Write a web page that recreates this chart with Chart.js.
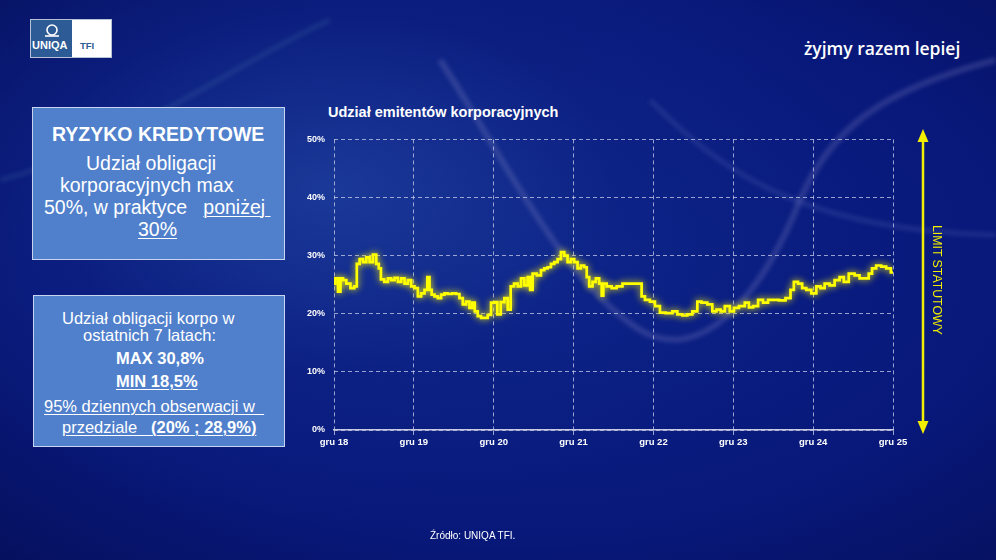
<!DOCTYPE html>
<html lang="pl">
<head>
<meta charset="utf-8">
<script src="https://cdn.jsdelivr.net/npm/chart.js@4.4.0/dist/chart.umd.min.js"></script>
<style>
  html, body { margin: 0; padding: 0; }
  body {
    width: 996px; height: 560px; overflow: hidden; position: relative;
    font-family: "Liberation Sans", Arial, sans-serif; color: #fff;
    background:
      radial-gradient(ellipse 520px 330px at 330px 190px, rgba(40,80,170,0.55) 0%, rgba(20,45,140,0.25) 55%, rgba(10,25,110,0) 100%),
      radial-gradient(ellipse 900px 500px at 520px 260px, #0c2288 0%, #08187a 55%, #040c4e 100%);
  }
  .abs { position: absolute; white-space: pre; line-height: 1; }
  .box { position: absolute; background: #5080cc; border: 1px solid #c9d5ee; }
  .u { text-decoration: underline; text-decoration-thickness: 1px; text-underline-offset: 2px; }
  #chartBox { position: absolute; left: 300px; top: 125px; width: 610px; height: 330px; }
</style>
</head>
<body>

<svg class="abs" width="996" height="560" style="left:0;top:0;filter:blur(2px)">
  <path d="M440 60 C 500 150, 560 280, 640 330 C 700 365, 760 300, 800 200 C 830 130, 880 90, 996 60" fill="none" stroke="rgba(170,165,215,0.22)" stroke-width="6"/>
  <path d="M650 100 C 720 170, 800 230, 996 235" fill="none" stroke="rgba(120,140,210,0.18)" stroke-width="5"/>
  <path d="M0 180 C 120 150, 240 60, 330 20" fill="none" stroke="rgba(120,190,200,0.12)" stroke-width="5"/>
</svg>

<!-- logo -->
<div class="abs" style="left:30px;top:19px;width:80px;height:37px;background:#fff;border:1px solid #b8c2d6;"></div>
<div class="abs" style="left:31px;top:20px;width:41px;height:37px;background:#2d5b95;"></div>
<svg class="abs" width="20" height="14" style="left:42px;top:24px">
  <ellipse cx="10" cy="6" rx="5" ry="5" fill="none" stroke="#fff" stroke-width="1.6"/>
  <path d="M3 12 H17" stroke="#fff" stroke-width="1.6"/>
</svg>
<div class="abs" style="left:32px;top:40px;font-size:11px;font-weight:bold;">UNIQA</div>
<div class="abs" style="left:80px;top:41px;font-size:9.5px;font-weight:bold;color:#2d5b95;">TFI</div>

<div class="abs" style="left:804px;top:40px;font-family:'Open Sans',sans-serif;font-weight:600;font-size:17.5px;">żyjmy razem lepiej</div>

<!-- box 1 -->
<div class="box" style="left:32px;top:107px;width:251px;height:151px;"></div>
<div class="abs" style="left:52px;top:125px;font-size:19.5px;font-weight:bold;">RYZYKO KREDYTOWE</div>
<div class="abs" style="left:86px;top:154px;font-size:19.5px;">Udział obligacji</div>
<div class="abs" style="left:60px;top:176px;font-size:19.5px;">korporacyjnych max</div>
<div class="abs" style="left:44px;top:198px;font-size:19.5px;">50%, w praktyce   <span class="u">poniżej </span></div>
<div class="abs u" style="left:138px;top:220px;font-size:19.5px;">30%</div>

<!-- box 2 -->
<div class="box" style="left:33px;top:295px;width:250px;height:150px;"></div>
<div class="abs" style="left:62px;top:310px;font-size:16.5px;">Udział obligacji korpo w</div>
<div class="abs" style="left:83px;top:327px;font-size:16.5px;">ostatnich 7 latach:</div>
<div class="abs" style="left:116px;top:350px;font-size:16.5px;font-weight:bold;">MAX 30,8%</div>
<div class="abs u" style="left:116px;top:373px;font-size:16.5px;font-weight:bold;">MIN 18,5%</div>
<div class="abs u" style="left:44px;top:398px;font-size:16.5px;">95% dziennych obserwacji w  </div>
<div class="abs u" style="left:62px;top:419px;font-size:16.5px;">przedziale   <b>(20% ; 28,9%)</b></div>

<!-- chart -->
<div class="abs" style="left:328px;top:105px;font-size:14.5px;font-weight:bold;">Udział emitentów korporacyjnych</div>
<div id="chartBox"><canvas id="chart1"></canvas></div>

<!-- statutory limit arrow -->
<svg class="abs" width="996" height="560" style="left:0;top:0">
  <line x1="923" y1="138" x2="923" y2="425" stroke="#f2ee00" stroke-width="2.5"/>
  <polygon points="923,129 917.5,142 928.5,142" fill="#f2ee00"/>
  <polygon points="923,434 917.5,421 928.5,421" fill="#f2ee00"/>
</svg>
<div class="abs" style="left:931px;top:225px;writing-mode:vertical-rl;font-size:12.3px;color:#f2ee00;">LIMIT STATUTOWY</div>

<div class="abs" style="left:430px;top:531px;font-size:10px;">Źródło: UNIQA TFI.</div>

<script>
// months since Dec 2018
const monthsFromStart = [
  0, 0.35, 0.85, 1.1, 1.6, 2.1, 2.85, 3.25, 3.6, 4.1, 4.6, 5.1, 5.6, 6.1, 6.6, 6.85, 7.25, 7.85, 8.35, 8.85,
  9.35, 9.85, 10.35, 10.85, 11.35, 11.85, 12.35, 12.85, 13.35, 13.85, 14.2, 14.5, 14.85, 15.35, 15.85, 16.35,
  16.85, 17.35, 18.1, 18.6, 19.1, 19.6, 20.1, 20.6, 20.95, 21.35, 21.85, 22.35, 22.85, 23.35, 23.85, 24.35,
  24.75, 25.35, 25.85, 26.35, 26.75, 27.35, 27.85, 28.35, 28.85, 29.35, 29.6, 30.1, 30.85, 31.35, 31.85, 32.35,
  32.85, 33.35, 33.85, 34.35, 34.85, 35.35, 35.85, 36.35, 36.85, 37.35, 37.85, 38.1, 38.6, 39.1, 39.6, 40.1,
  40.35, 40.6, 41.35, 42.1, 42.85, 43.85, 44.85, 46.1, 46.35, 47.1, 47.85, 48.6, 49.35, 50.35, 51.35, 51.85,
  52.85, 53.35, 54.35, 54.85, 55.6, 56.6, 57.1, 57.85, 58.35, 59.1, 59.85, 60.35, 61.35, 62.1, 62.6, 63.35,
  64.1, 64.85, 65.6, 66.35, 67.35, 68.35, 68.85, 69.35, 70.1, 70.6, 71.35, 72.1, 72.85, 73.35, 74.1, 74.85,
  75.6, 76.35, 76.85, 77.85, 78.6, 79.35, 80.1, 80.6, 81.1, 81.85, 82.6, 83.35, 84,
];

// corporate issuers share, %
const corpShare = [
  25.2, 26.1, 23.8, 26.1, 25.8, 25.2, 24.4, 24.7, 28.6, 29.4, 28.9, 29.7, 28.9, 30.2, 28.6, 27.8, 25.9, 25.5, 26.1, 25.8,
  26.2, 25.5, 26.1, 25.2, 25.8, 24.7, 24.4, 23.0, 23.5, 24.1, 26.3, 24.1, 23.3, 23.0, 22.7, 23.3,
  23.5, 23.4, 23.5, 23.4, 22.7, 21.6, 22.1, 21.0, 21.9, 20.4, 19.6, 19.3, 19.3, 19.8, 21.9, 22.0,
  19.9, 22.0, 22.7, 20.7, 24.7, 25.2, 24.7, 26.1, 24.9, 26.3, 24.1, 26.9, 26.6, 27.5, 27.8, 28.0,
  28.6, 28.9, 29.4, 30.6, 30.0, 28.9, 29.4, 28.9, 27.8, 28.3, 28.0, 26.3, 24.7, 25.5, 26.1, 25.2,
  23.1, 25.2, 24.7, 24.4, 24.7, 25.2, 25.2, 25.2, 23.0, 22.4, 22.1, 21.3, 20.2, 20.1, 20.4, 19.9,
  19.7, 19.9, 20.4, 22.1, 21.9, 21.6, 20.4, 20.7, 20.4, 21.3, 20.4, 21.0, 21.3, 21.9, 21.1, 21.3,
  22.4, 21.9, 22.4, 22.4, 22.3, 22.7, 24.1, 25.5, 25.2, 24.4, 24.1, 23.5, 24.7, 24.4, 25.2, 24.9,
  25.8, 26.3, 25.5, 26.9, 26.6, 26.1, 26.1, 26.9, 27.8, 28.3, 28.1, 27.8, 27.1,
];

const xTickLabels = ['gru 18', 'gru 19', 'gru 20', 'gru 21', 'gru 22', 'gru 23', 'gru 24', 'gru 25'];
const yTickValues = [0, 10, 20, 30, 40, 50];

const gridColor = 'rgba(200, 205, 232, 0.75)';

const glowPlugin = {
  id: 'glow',
  beforeDatasetsDraw(chart) {
    chart.ctx.save();
    chart.ctx.shadowColor = 'rgba(255, 245, 0, 0.95)';
    chart.ctx.shadowBlur = 7;
  },
  afterDatasetsDraw(chart) {
    chart.ctx.restore();
  },
};

var shareCanvas = document.getElementById('chart1').getContext('2d');
var shareChart = new Chart(shareCanvas, {
  type: 'line',
  data: {
    datasets: [
      {
        label: 'Udział emitentów korporacyjnych',
        data: monthsFromStart.map((m, i) => ({ x: m, y: corpShare[i] })),
        borderColor: '#ffff00',
        borderWidth: 2.7,
        pointRadius: 0,
        stepped: 'middle',
        fill: false,
      },
    ],
  },
  options: {
    responsive: true,
    maintainAspectRatio: false,
    animation: false,
    layout: { padding: { top: 10, right: 17, left: 0, bottom: 0 } },
    plugins: {
      legend: { display: false },
      tooltip: { enabled: false },
    },
    scales: {
      x: {
        type: 'linear',
        min: 0,
        max: 84,
        afterBuildTicks: axis => {
          axis.ticks = xTickLabels.map((_, i) => ({ value: i * 12 }));
        },
        afterFit: axis => { axis.height = 25; },
        ticks: {
          autoSkip: false,
          maxRotation: 0,
          padding: 2,
          color: '#ffffff',
          font: { family: 'Liberation Sans', size: 9.5, weight: 'bold' },
          callback: v => xTickLabels[Math.round(v / 12)],
        },
        grid: { color: gridColor, lineWidth: 1, tickLength: 5 },
        border: { display: true, color: '#c9cbe0', width: 1.5, dash: [4, 3] },
      },
      y: {
        min: 0,
        max: 50,
        afterBuildTicks: axis => {
          axis.ticks = yTickValues.map(v => ({ value: v }));
        },
        afterFit: axis => { axis.width = 34; },
        ticks: {
          padding: 9,
          color: '#ffffff',
          font: { family: 'Liberation Sans', size: 9, weight: 'bold' },
          callback: v => v + '%',
        },
        grid: { color: gridColor, lineWidth: 1, drawTicks: false },
        border: { display: false, dash: [4, 3] },
      },
    },
  },
  plugins: [glowPlugin],
});
</script>
</body>
</html>
